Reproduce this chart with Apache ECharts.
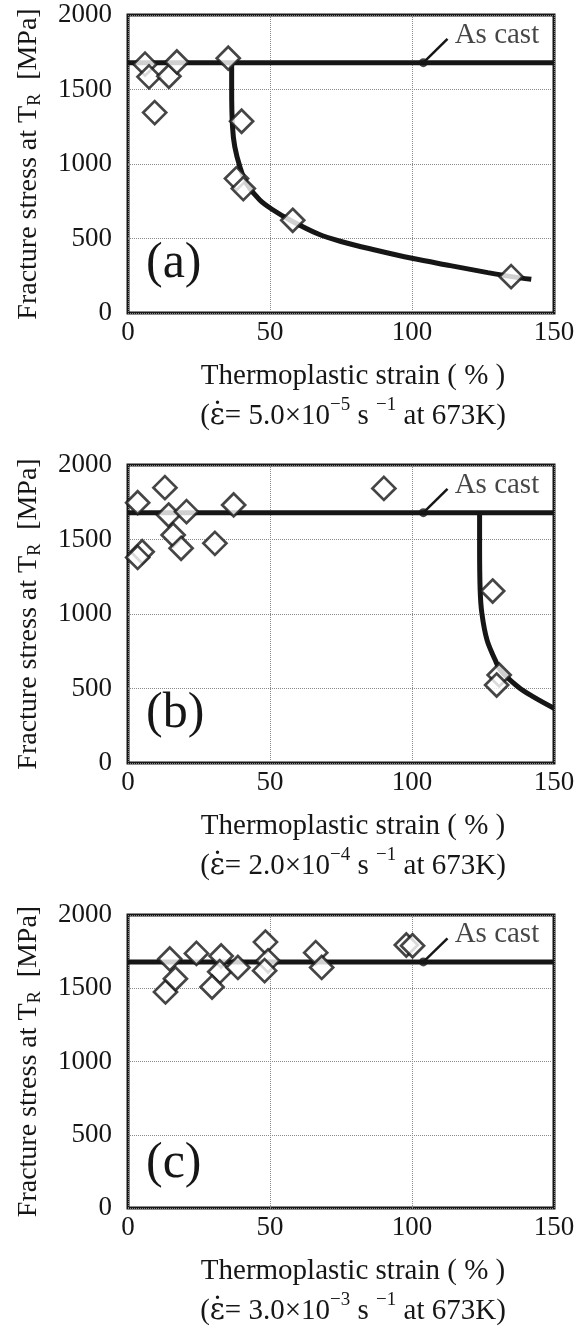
<!DOCTYPE html>
<html>
<head>
<meta charset="utf-8">
<script src="https://cdn.jsdelivr.net/npm/echarts@6/dist/echarts.min.js"></script>
<style>
  html, body { margin: 0; padding: 0; background: #fff; }
  #chart { width: 588px; height: 1332px; }
</style>
</head>
<body>
<div id="chart"></div>
<script>
// values
var xTicks = [0, 50, 100, 150];
var yTicks = [0, 500, 1000, 1500, 2000];
var asCast = 1680;
var asCastDot = [[104, 1680]];
var leader = [[104, 1680], [112.5, 1840]];
var asCastLabelAt = [[115, 1866]];

var pointsA = [[6, 1670], [7.4, 1585], [9.4, 1345], [14.4, 1589], [17.2, 1685], [35.3, 1710],
  [40, 1287], [38.2, 902], [40.6, 835], [58, 622], [134.9, 244]];
var curveA = [[36.5, 1680], [36.5, 1500], [36.8, 1250], [37.6, 1116], [39.4, 982], [41.7, 870],
  [46.4, 758], [51.1, 691], [57, 624], [67, 530], [75, 480], [87, 423], [100, 367],
  [113.5, 318], [126.7, 271], [135, 244], [142, 226]];

var pointsB = [[3.4, 1747], [13, 1848], [14.3, 1664], [20.6, 1687], [37.2, 1732], [15.9, 1530],
  [18.7, 1441], [5, 1418], [3.4, 1380], [30.6, 1474], [90.1, 1843], [128.4, 1154],
  [130.7, 591], [129.8, 523]];
var curveB = [[123.8, 1680], [123.8, 1450], [124, 1160], [124.6, 1005], [126.4, 826],
  [129.3, 691], [131.1, 624], [137.3, 512], [142.6, 445], [150, 367]];

var pointsC = [[14.7, 1700], [13.2, 1475], [16.7, 1565], [24.1, 1738], [32.8, 1720], [32.3, 1613],
  [29.6, 1508], [38.7, 1642], [48.4, 1815], [49.3, 1687], [48.1, 1620], [66.1, 1743],
  [68.2, 1642], [98, 1795], [100.2, 1790]];

var panelTags = ['(a)', '(b)', '(c)'];
var rates = ['5.0', '2.0', '3.0'];
var exponents = ['\u22125', '\u22124', '\u22123'];

var panels = [
  { points: pointsA, curve: curveA },
  { points: pointsB, curve: curveB },
  { points: pointsC, curve: null }
];

var font = 'Liberation Serif';
var ink = '#161616';
var tops = [15, 465, 915];

var chart = echarts.init(document.getElementById('chart'));

var grid = [], xAxis = [], yAxis = [], series = [], title = [];

function plain(v) { return String(v); }

panels.forEach(function (p, i) {
  grid.push({
    left: 128, width: 426, top: tops[i], height: 298,
    show: true, borderColor: ink, borderWidth: 3, backgroundColor: '#fff'
  });

  xAxis.push({
    gridIndex: i, type: 'value', min: xTicks[0], max: xTicks[xTicks.length - 1], interval: 50,
    axisLine: { show: false }, axisTick: { show: false },
    splitLine: { show: true, lineStyle: { color: '#8a8a8a', width: 1, type: [1, 1] } },
    axisLabel: { margin: 6, fontSize: 27, color: ink, fontFamily: font, formatter: plain },
    name: 'Thermoplastic strain ( % )\n({e|\u03b5\u0307}= ' + rates[i] + '\u00d710{sup|' + exponents[i] +
      '} s {sup|\u22121} at 673K)',
    nameLocation: 'middle', nameGap: 43,
    nameTextStyle: {
      fontSize: 29, lineHeight: 40, color: ink, fontFamily: font, padding: [0, 0, 0, 24],
      rich: {
        sup: { fontSize: 19, lineHeight: 26, verticalAlign: 'top', color: ink, fontFamily: font },
        e: { fontSize: 29, lineHeight: 40, color: ink, fontFamily: 'DejaVu Serif' }
      }
    }
  });

  yAxis.push({
    gridIndex: i, type: 'value', min: yTicks[0], max: yTicks[yTicks.length - 1], interval: 500,
    axisLine: { show: false }, axisTick: { show: false },
    splitLine: { show: true, lineStyle: { color: '#8a8a8a', width: 1, type: [1, 1] } },
    axisLabel: { margin: 16, fontSize: 27, color: ink, fontFamily: font, formatter: plain },
    name: 'Fracture stress at T{s|R}  [MPa]',
    nameLocation: 'middle', nameGap: 84,
    nameTextStyle: {
      fontSize: 28, lineHeight: 30, color: ink, fontFamily: font,
      rich: { s: { fontSize: 18, lineHeight: 28, verticalAlign: 'bottom', color: ink, fontFamily: font } }
    }
  });

  title.push({
    text: panelTags[i], left: 146, top: tops[i] + 224, padding: 0,
    textStyle: { fontSize: 50, fontWeight: 'normal', color: ink, fontFamily: font }
  });

  // as cast reference line
  series.push({
    type: 'line', xAxisIndex: i, yAxisIndex: i, symbol: 'none', silent: true, z: 2,
    data: [[xTicks[0], asCast], [xTicks[xTicks.length - 1], asCast]],
    lineStyle: { color: ink, width: 5 }
  });

  if (p.curve) {
    series.push({
      type: 'line', xAxisIndex: i, yAxisIndex: i, symbol: 'none', smooth: 0.35, z: 2,
      data: p.curve, lineStyle: { color: ink, width: 5 }
    });
  }

  // leader line + dot + label
  series.push({
    type: 'line', xAxisIndex: i, yAxisIndex: i, symbol: 'none', z: 2,
    data: leader, lineStyle: { color: ink, width: 2.5 }
  });
  series.push({
    type: 'scatter', xAxisIndex: i, yAxisIndex: i, symbol: 'circle', symbolSize: 9, z: 3,
    data: asCastDot, itemStyle: { color: ink }
  });
  series.push({
    type: 'scatter', xAxisIndex: i, yAxisIndex: i, symbolSize: 0.1, z: 3,
    data: asCastLabelAt, itemStyle: { color: 'rgba(0,0,0,0)' },
    label: {
      show: true, position: 'right', distance: 0, formatter: 'As cast',
      fontSize: 29, color: ink, fontFamily: font
    }
  });

  // measured points
  series.push({
    type: 'scatter', xAxisIndex: i, yAxisIndex: i, symbol: 'diamond', symbolSize: 23, z: 5,
    data: p.points,
    itemStyle: { color: '#fff', borderColor: ink, borderWidth: 2.7 }
  });
});

chart.setOption({
  backgroundColor: '#fff',
  animation: false,
  textStyle: { fontFamily: font, color: ink },
  title: title,
  grid: grid,
  xAxis: xAxis,
  yAxis: yAxis,
  series: series
});
</script>
</body>
</html>
